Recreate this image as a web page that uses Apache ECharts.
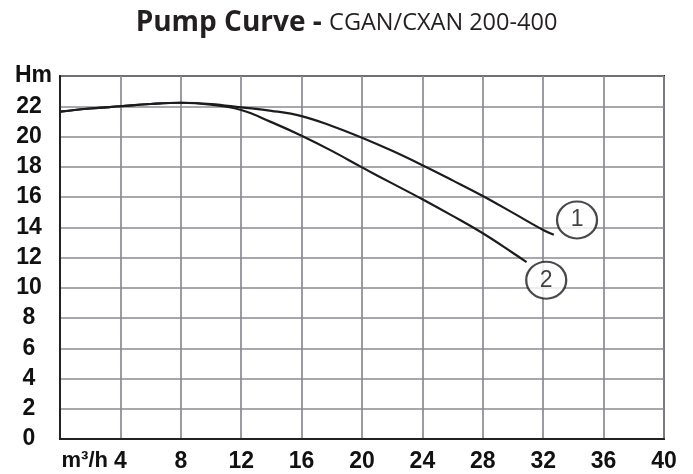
<!DOCTYPE html>
<html>
<head>
<meta charset="utf-8">
<script src="https://cdn.jsdelivr.net/npm/echarts@6/dist/echarts.min.js"></script>
<style>
  html, body { margin: 0; padding: 0; background: #fff; }
  #chart { width: 693px; height: 474px; }
</style>
</head>
<body>
<div id="chart"></div>
<script>
// flow (m3/h) and head (m)
const curve1Flow = [0, 2, 4, 6, 8, 10, 12, 14, 16, 18, 20, 22, 24, 26, 28, 30, 32, 32.7];
const curve1Head = [21.64, 21.85, 22.0, 22.15, 22.23, 22.15, 21.93, 21.7, 21.35, 20.7, 19.92, 19.05, 18.1, 17.1, 16.07, 14.95, 13.82, 13.5];

const curve2Flow = [0, 2, 4, 6, 8, 10, 12, 14, 16, 18, 20, 22, 24, 26, 28, 30, 30.9];
const curve2Head = [21.64, 21.85, 22.0, 22.15, 22.23, 22.1, 21.75, 20.95, 20.05, 19.05, 17.96, 16.9, 15.85, 14.75, 13.6, 12.3, 11.7];

// numbered curve markers
const markerLabels = ["1", "2"];
const markerPos = [[34.24, 14.48], [32.2, 10.5]];

const labelFont = '"Liberation Sans", Arial, sans-serif';
const lineColor = "#1c1c1c";
const gridColor = "#8a8a92";

const zip = (xs, ys) => xs.map((x, i) => [x, ys[i]]);

const chart = echarts.init(document.getElementById("chart"));

chart.setOption({
  animation: false,
  title: {
    text: "{b|Pump Curve - }{r|CGAN/CXAN 200-400}",
    left: "center",
    top: 4,
    textStyle: {
      rich: {
        b: { fontFamily: '"Open Sans"', fontWeight: "bold", fontSize: 28, color: "#231f20" },
        r: { fontFamily: '"Open Sans"', fontWeight: "normal", fontSize: 23.5, color: "#231f20" },
      },
    },
  },
  grid: {
    left: 60,
    right: 29,
    top: 76,
    bottom: 35,
    show: true,
    borderColor: "#222",
    borderWidth: 2,
    backgroundColor: "#fff",
  },
  xAxis: {
    type: "value",
    min: 0,
    max: 40,
    interval: 4,
    name: "m³/h",
    nameLocation: "start",
    nameGap: -48,
    nameMoveOverlap: false,
    nameTextStyle: {
      fontFamily: labelFont,
      fontWeight: "bold",
      fontSize: 22,
      color: "#111",
      align: "right",
      verticalAlign: "top",
      padding: [11, 0, 0, 0],
    },
    axisLine: { lineStyle: { color: "#222", width: 2 } },
    axisTick: { show: false },
    axisLabel: {
      margin: 11,
      fontFamily: labelFont,
      fontWeight: "bold",
      fontSize: 23,
      color: "#111",
      formatter: (v) => (v === 0 ? "" : String(v)),
    },
    splitLine: { lineStyle: { color: gridColor, width: 1.7 } },
  },
  yAxis: {
    type: "value",
    min: 0,
    max: 24,
    interval: 2,
    axisLine: { show: true, lineStyle: { color: "#222", width: 2 } },
    axisTick: { show: false },
    axisLabel: {
      margin: 31,
      align: "center",
      fontFamily: labelFont,
      fontWeight: "bold",
      fontSize: 23,
      color: "#111",
      formatter: (v) => (v === 24 ? "{h|Hm}" : String(v)),
      rich: {
        h: { fontFamily: labelFont, fontWeight: "bold", fontSize: 23, color: "#111", padding: [0, 0, 0, 9] },
      },
    },
    splitLine: { lineStyle: { color: gridColor, width: 1.7 } },
  },
  series: [
    {
      name: "1",
      type: "line",
      smooth: 0.4,
      symbol: "none",
      data: zip(curve1Flow, curve1Head),
      lineStyle: { color: lineColor, width: 2.2 },
      z: 3,
    },
    {
      name: "2",
      type: "line",
      smooth: 0.4,
      symbol: "none",
      data: zip(curve2Flow, curve2Head),
      lineStyle: { color: lineColor, width: 2.2 },
      z: 3,
    },
    {
      type: "scatter",
      symbol: "circle",
      symbolSize: [40, 37],
      data: markerPos.map((p, i) => ({ value: p, name: markerLabels[i] })),
      itemStyle: { color: "#fff", borderColor: lineColor, borderWidth: 2.2 },
      label: {
        show: true,
        position: "inside",
        formatter: (p) => p.name,
        fontFamily: labelFont,
        fontSize: 23,
        color: "#111",
      },
      z: 4,
    },
  ],
});
</script>
</body>
</html>
